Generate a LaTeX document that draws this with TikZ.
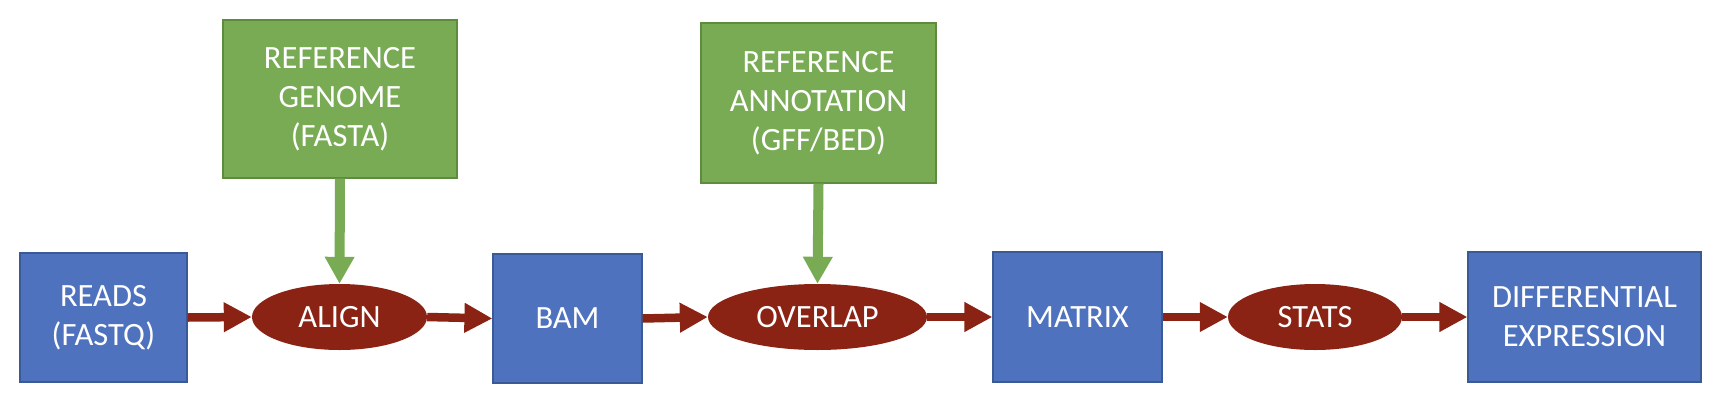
\documentclass[tikz,border=0pt]{standalone}
\usepackage{fontspec}
\setmainfont{Carlito}
\usetikzlibrary{shapes.geometric,arrows.meta}
\definecolor{boxblue}{HTML}{4E72BE}
\definecolor{boxblueedge}{HTML}{3A5A96}
\definecolor{boxgreen}{HTML}{79AB55}
\definecolor{boxgreenedge}{HTML}{5E8C3F}
\definecolor{procred}{HTML}{8A2313}
\begin{document}
\begin{tikzpicture}[x=1pt,y=-1pt,
  txt/.style={text=white,align=center,font=\fontsize{32.5}{39}\selectfont,inner sep=0pt},
  filebox/.style={txt,rectangle,fill=boxblue,draw=boxblueedge,line width=1.2pt},
  refbox/.style={txt,rectangle,fill=boxgreen,draw=boxgreenedge,line width=1.2pt},
  proc/.style={txt,ellipse,fill=procred,draw=none,minimum height=66pt},
  redarrow/.style={draw=procred,line width=8.5pt,-{Triangle[width=28pt,length=28pt]}},
  greenarrow/.style={draw=boxgreen,line width=10pt,-{Triangle[width=28pt,length=27pt]}}]
\useasboundingbox (0,0) rectangle (1720,410);
\fill[white] (0,0) rectangle (1720,410);
% file boxes
\node[filebox,minimum width=167pt,minimum height=129pt] (reads) at (103.5,317.5) {READS\\(FASTQ)};
\node[filebox,minimum width=149pt,minimum height=129pt] (bam) at (567.5,318.5) {BAM};
\node[filebox,minimum width=169pt,minimum height=130pt] (matrix) at (1077.5,317) {MATRIX};
\node[filebox,minimum width=233pt,minimum height=130pt] (de) at (1584.5,317) {DIFFERENTIAL\\EXPRESSION};
% reference boxes
\node[refbox,minimum width=234pt,minimum height=158pt] (genome) at (340,99) {REFERENCE\\GENOME\\(FASTA)};
\node[refbox,minimum width=235pt,minimum height=160pt] (annot) at (818.5,103) {REFERENCE\\ANNOTATION\\(GFF/BED)};
% process ellipses
\node[proc,minimum width=175pt] (align) at (339.5,317) {ALIGN};
\node[proc,minimum width=219pt] (overlap) at (817.5,317) {OVERLAP};
\node[proc,minimum width=174pt] (stats) at (1315,317) {STATS};
% arrows
\draw[redarrow] (reads.east) -- (align.west);
\draw[redarrow] (align.east) -- (bam.west);
\draw[redarrow] (bam.east) -- (overlap.west);
\draw[redarrow] (overlap.east) -- (matrix.west);
\draw[redarrow] (matrix.east) -- (stats.west);
\draw[redarrow] (stats.east) -- (de.west);
\draw[greenarrow] (genome.south) -- (align.north);
\draw[greenarrow] (annot.south) -- (overlap.north);
\end{tikzpicture}
\end{document}
